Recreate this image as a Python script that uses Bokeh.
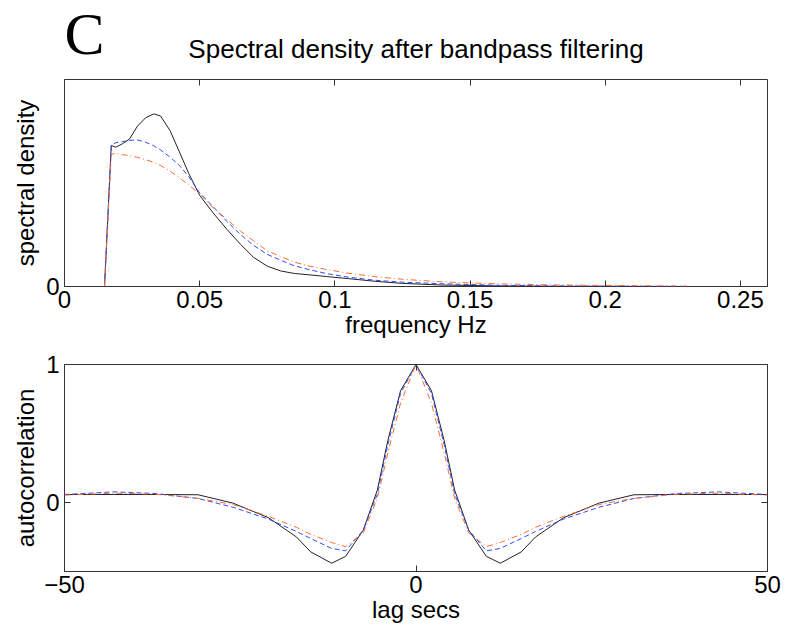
from bokeh.plotting import figure
from bokeh.layouts import column
from bokeh.models import LinearAxis, FixedTicker, Range1d
from bokeh.core.properties import value
from bokeh.embed import file_html
from bokeh.resources import INLINE

# ---------------- data ----------------
freq = [0.0148, 0.0173, 0.019, 0.0215, 0.024, 0.027, 0.030, 0.033, 0.0355, 0.039,
        0.0425, 0.046, 0.050, 0.055, 0.060, 0.065, 0.070, 0.075, 0.080, 0.085,
        0.090, 0.097, 0.105, 0.115, 0.125, 0.14, 0.16, 0.18, 0.20, 0.23]
psd_black = [0.0, 0.681, 0.673, 0.690, 0.712, 0.775, 0.815, 0.834, 0.824, 0.754,
             0.650, 0.545, 0.440, 0.355, 0.277, 0.205, 0.140, 0.098, 0.075, 0.063,
             0.057, 0.048, 0.038, 0.025, 0.015, 0.007, 0.003, 0.001, 0.0005, 0.0]
psd_blue = [0.0, 0.681, 0.695, 0.700, 0.706, 0.708, 0.697, 0.680, 0.660, 0.625,
            0.585, 0.530, 0.452, 0.385, 0.315, 0.252, 0.198, 0.155, 0.127, 0.100,
            0.083, 0.062, 0.045, 0.030, 0.021, 0.013, 0.006, 0.003, 0.0015, 0.0005]
psd_red = [0.0, 0.640, 0.642, 0.637, 0.632, 0.624, 0.613, 0.600, 0.585, 0.558,
           0.525, 0.490, 0.448, 0.380, 0.325, 0.268, 0.220, 0.172, 0.145, 0.118,
           0.100, 0.082, 0.064, 0.047, 0.035, 0.022, 0.013, 0.008, 0.005, 0.002]

lag = [-50, -43, -37, -31, -26, -21, -17, -15, -12, -10, -7.5, -5.5, -4, -2.2, 0,
       2.2, 4, 5.5, 7.5, 10, 12, 15, 17, 21, 26, 31, 37, 43, 50]
acf_black = [0.058, 0.058, 0.058, 0.056, -0.005, -0.11, -0.25, -0.357, -0.44, -0.39,
             -0.20, 0.09, 0.45, 0.81, 1.0,
             0.81, 0.45, 0.09, -0.20, -0.39, -0.44, -0.357, -0.25, -0.11, -0.005,
             0.056, 0.058, 0.058, 0.058]
acf_blue = [0.058, 0.077, 0.065, 0.029, -0.035, -0.12, -0.21, -0.26, -0.333, -0.35,
            -0.20, 0.06, 0.42, 0.79, 1.0,
            0.79, 0.42, 0.06, -0.20, -0.35, -0.333, -0.26, -0.21, -0.12, -0.035,
            0.029, 0.065, 0.077, 0.058]
acf_red = [0.053, 0.068, 0.060, 0.030, -0.015, -0.10, -0.18, -0.23, -0.29, -0.32,
           -0.22, 0.03, 0.36, 0.72, 1.0,
           0.72, 0.36, 0.03, -0.22, -0.32, -0.29, -0.23, -0.18, -0.10, -0.015,
           0.030, 0.060, 0.068, 0.053]

freq_ticks = [0, 0.05, 0.1, 0.15, 0.2, 0.25]
freq_tick_labels = ["0", "0.05", "0.1", "0.15", "0.2", "0.25"]
psd_ticks = [0]
psd_tick_labels = ["0"]
lag_ticks = [-50, 0, 50]
lag_tick_labels = ["\u221250", "0", "50"]
acf_ticks = [0, 1]
acf_tick_labels = ["0", "1"]

panel_letter = "C"
title_text = "Spectral density after bandpass filtering"

FONT = "Liberation Sans"
TICK_FS = "24px"
LABEL_FS = "24px"
OUTLINE = "#333333"
BLACK = "#222222"
BLUE = "#2f4cff"
RED = "#ff6a30"
HDR_H = 66


def style(p, xticks, xlabels, yticks, ylabels, xlab, ylab):
    p.outline_line_color = OUTLINE
    p.outline_line_width = 1
    p.xgrid.visible = False
    p.ygrid.visible = False
    xa = p.xaxis[0]
    ya = p.yaxis[0]
    xa.ticker = FixedTicker(ticks=xticks)
    ya.ticker = FixedTicker(ticks=yticks)
    xa.major_label_overrides = {t: s for t, s in zip(xticks, xlabels)}
    ya.major_label_overrides = {t: s for t, s in zip(yticks, ylabels)}
    xa.axis_label = xlab
    ya.axis_label = ylab
    for a in (xa, ya):
        a.axis_line_color = None
        a.major_tick_in = 6
        a.major_tick_out = 0
        a.minor_tick_line_color = None
        a.major_tick_line_color = OUTLINE
        a.major_label_text_font = FONT
        a.major_label_text_font_size = TICK_FS
        a.major_label_text_color = "black"
        a.axis_label_text_font = FONT
        a.axis_label_text_font_size = LABEL_FS
        a.axis_label_text_font_style = "normal"
        a.axis_label_text_color = "black"
    xa.major_label_standoff = 4
    xa.axis_label_standoff = 0
    ya.major_label_standoff = 5
    ya.axis_label_standoff = 4
    # mirrored ticks (no labels)
    top = LinearAxis(ticker=FixedTicker(ticks=xticks))
    right = LinearAxis(ticker=FixedTicker(ticks=yticks))
    top.major_label_overrides = {t: "" for t in xticks}
    right.major_label_overrides = {t: "" for t in yticks}
    for a in (top, right):
        a.axis_line_color = None
        a.major_tick_in = 6
        a.major_tick_out = 0
        a.minor_tick_line_color = None
        a.major_tick_line_color = OUTLINE
        a.major_label_text_font_size = "1px"
        a.major_label_standoff = 0
    p.add_layout(top, "above")
    p.add_layout(right, "right")


# ---------------- header (panel letter + title) ----------------
# same horizontal frame as the panels below; vertical range in header pixels (0 = bottom)
hdr = figure(width=794, height=HDR_H, output_backend="svg", toolbar_location=None,
             x_range=Range1d(0, 0.26), y_range=Range1d(0, HDR_H),
             x_axis_location=None, y_axis_location=None,
             min_border_left=64, min_border_right=27, min_border_top=0,
             min_border_bottom=0, outline_line_color=None)
hdr.xgrid.visible = False
hdr.ygrid.visible = False
hdr.text(x=[0.0], y=[HDR_H - 33], text=[panel_letter], text_font=value("Liberation Serif"),
         text_font_size="60px", text_align="left", text_baseline="middle",
         text_color="black")
hdr.text(x=[0.13], y=[HDR_H - 48.5], text=[title_text], text_font=value(FONT),
         text_font_size="26px", text_align="center", text_baseline="middle",
         text_color="black")

# ---------------- top: spectral density ----------------
p1 = figure(width=794, height=274, output_backend="svg", toolbar_location=None,
            x_range=Range1d(0, 0.26), y_range=Range1d(0, 1),
            min_border_left=64, min_border_right=27, min_border_top=13,
            min_border_bottom=54)
p1.line(freq, psd_black, line_color=BLACK, line_width=1)
p1.line(freq, psd_blue, line_color=BLUE, line_width=1, line_dash="5 3")
p1.line(freq, psd_red, line_color=RED, line_width=1, line_dash="6 3 1 3")
style(p1, freq_ticks, freq_tick_labels, psd_ticks, psd_tick_labels,
      "frequency Hz", "spectral density")

# ---------------- bottom: autocorrelation ----------------
p2 = figure(width=794, height=292, output_backend="svg", toolbar_location=None,
            x_range=Range1d(-50, 50), y_range=Range1d(-0.5, 1),
            min_border_left=64, min_border_right=27, min_border_top=24,
            min_border_bottom=61)
p2.line(lag, acf_black, line_color=BLACK, line_width=1)
p2.line(lag, acf_blue, line_color=BLUE, line_width=1, line_dash="5 3")
p2.line(lag, acf_red, line_color=RED, line_width=1, line_dash="6 3 1 3")
style(p2, lag_ticks, lag_tick_labels, acf_ticks, acf_tick_labels,
      "lag secs", "autocorrelation")

layout = column(hdr, p1, p2, spacing=0)
open("out.html", "w").write(file_html(layout, INLINE))
